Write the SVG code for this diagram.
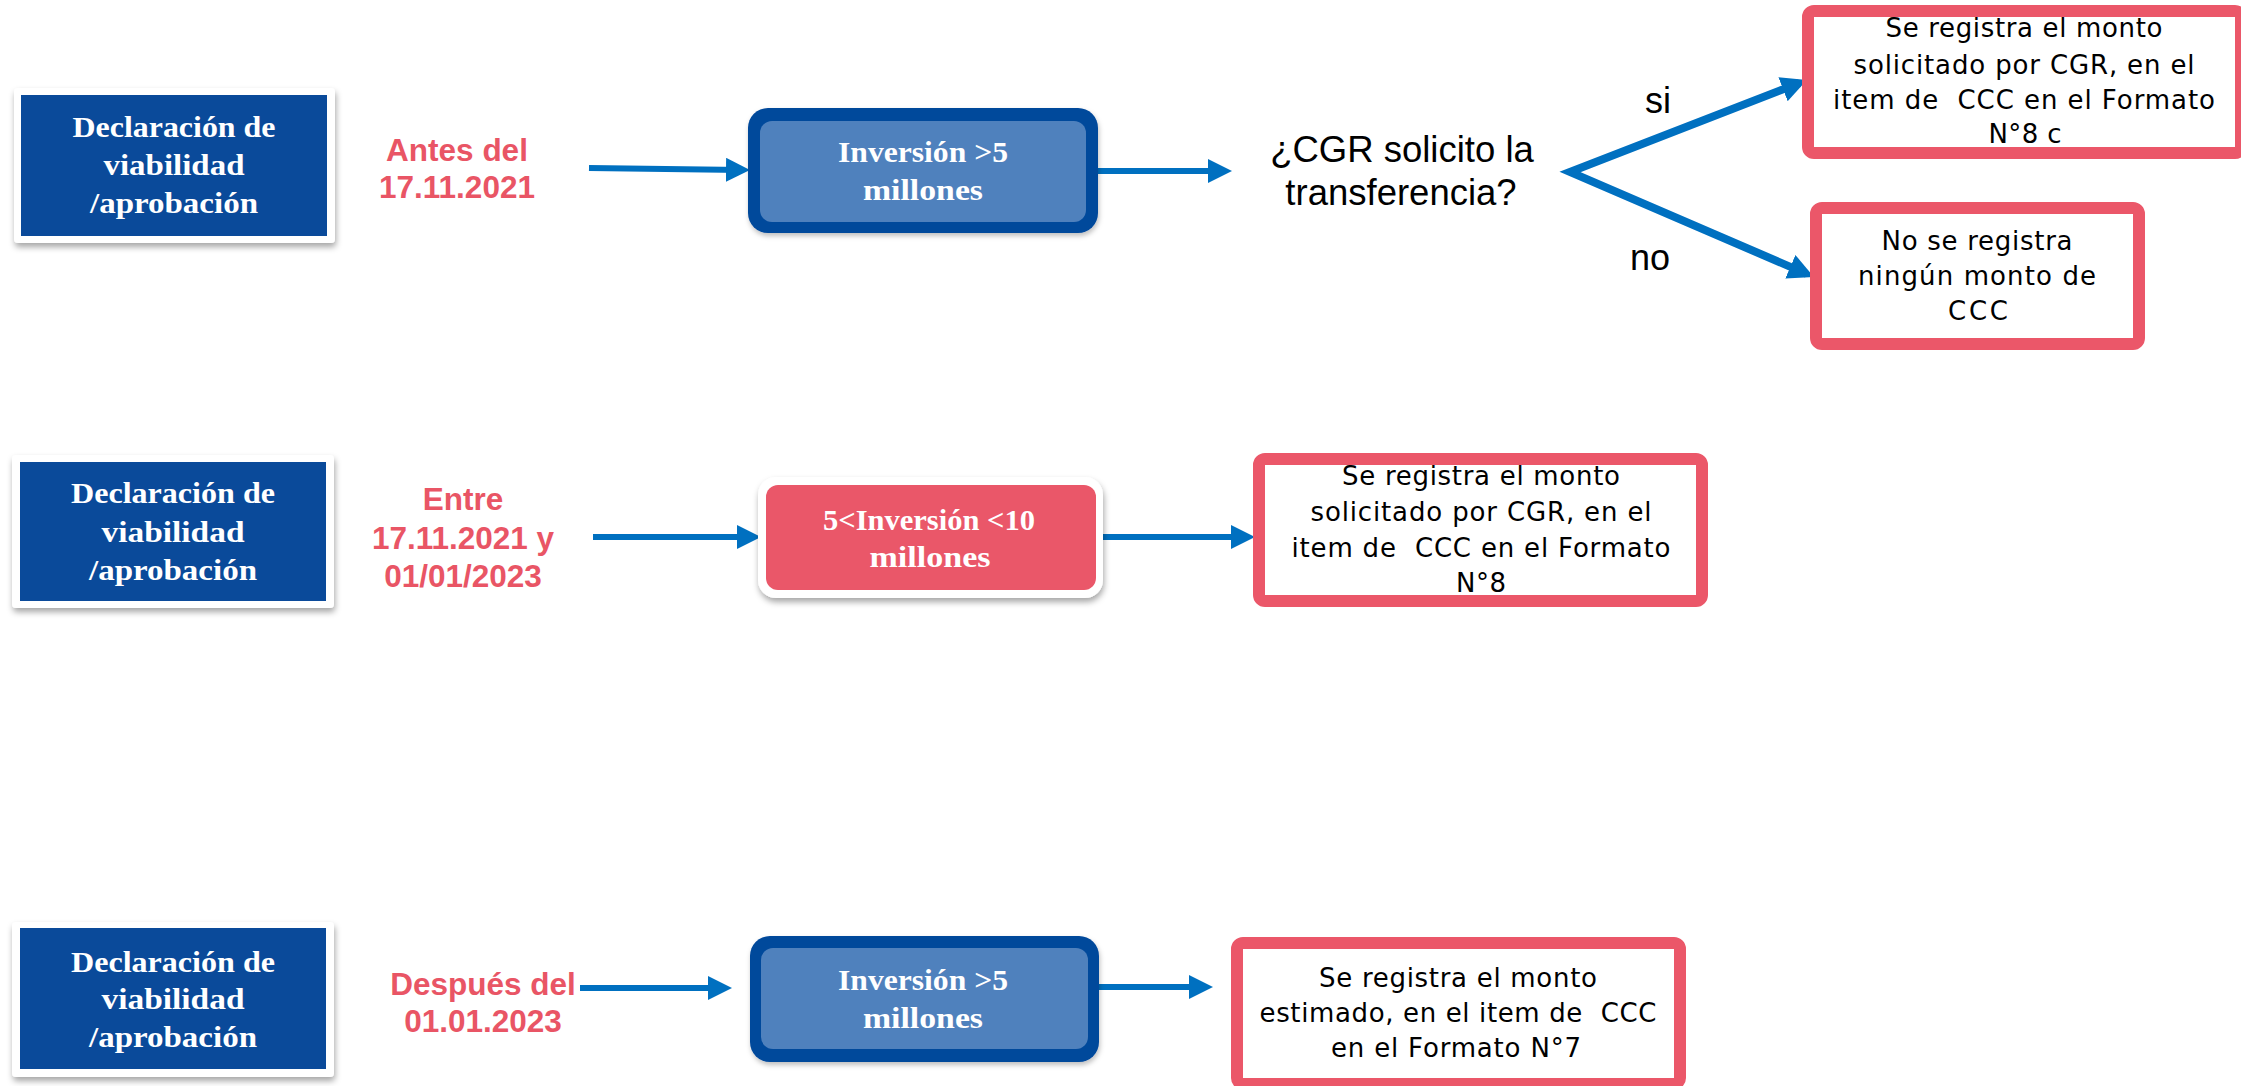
<svg xmlns="http://www.w3.org/2000/svg" width="2241" height="1086" viewBox="0 0 2241 1086">
<style>
.frame{fill:#ffffff;filter:url(#sh)}
.decl{fill:#0A4A9A}
.serif{font-family:"Liberation Serif","DejaVu Serif",serif;font-weight:bold;font-size:29px;fill:#ffffff;text-anchor:middle}
.red{font-family:"Liberation Sans",Arial,sans-serif;font-weight:bold;font-size:31.5px;fill:#E95565;text-anchor:middle}
.q{font-family:"Liberation Sans",Arial,sans-serif;font-size:36.5px;fill:#000000;text-anchor:middle}
.lbl{font-family:"Liberation Sans",Arial,sans-serif;font-size:36px;fill:#000000;text-anchor:middle}
.rbox{fill:#ffffff;stroke:#EB5769;stroke-width:12}
.body{font-family:"DejaVu Sans","Noto Sans",sans-serif;font-size:26px;fill:#000000;text-anchor:middle;white-space:pre}
.inv-o{fill:#05489B;filter:url(#sh2)}
.inv-i{fill:#4F81BD}
.pink{fill:#EA5769}
.conn{fill:none;stroke:#0070C0;stroke-width:6;marker-end:url(#ah)}
.br{fill:none;stroke:#0070C0;stroke-width:8;stroke-linejoin:miter;stroke-miterlimit:10;marker-start:url(#ah2);marker-end:url(#ah2)}
</style>
<defs>
<filter id="sh" x="-10%" y="-10%" width="125%" height="135%">
<feDropShadow dx="1" dy="4" stdDeviation="3" flood-color="#000000" flood-opacity="0.35"/>
</filter>
<filter id="sh2" x="-10%" y="-10%" width="125%" height="135%">
<feDropShadow dx="1" dy="3" stdDeviation="2.5" flood-color="#000000" flood-opacity="0.25"/>
</filter>
<marker id="ah" viewBox="0 0 10 10" refX="6.67" refY="5" markerWidth="4" markerHeight="4" orient="auto" markerUnits="strokeWidth">
<path d="M0,0 L10,5 L0,10 z" fill="#0070C0"/>
</marker>
<marker id="ah2" viewBox="0 0 10 10" refX="6.9" refY="5" markerWidth="3.2" markerHeight="3.2" orient="auto-start-reverse" markerUnits="strokeWidth">
<path d="M0,0 L10,5 L0,10 z" fill="#0070C0"/>
</marker>
</defs>
<rect width="2241" height="1086" fill="#ffffff"/>

<g id="connectors">
<path class="conn" d="M589,168 L742,170"/>
<path class="conn" d="M1092,171 L1224,171"/>
<path class="br" d="M1799.5,82.9 L1570,172 L1806.6,273.8"/>
<path class="conn" d="M593,537 L753,537"/>
<path class="conn" d="M1099,537 L1247,537"/>
<path class="conn" d="M580,988 L724,988"/>
<path class="conn" d="M1095,987 L1205,987"/>
</g>

<g id="decl1">
<rect class="frame" x="14" y="88" width="321" height="155" rx="4"/>
<rect class="decl" x="21" y="95" width="306" height="141"/>
<text class="serif" x="174" y="137" textLength="203" lengthAdjust="spacingAndGlyphs">Declaración de</text>
<text class="serif" x="174" y="175" textLength="141" lengthAdjust="spacingAndGlyphs">viabilidad</text>
<text class="serif" x="174" y="213" textLength="168" lengthAdjust="spacingAndGlyphs">/aprobación</text>
</g>
<g id="date1">
<text class="red" x="457" y="161">Antes del</text>
<text class="red" x="457" y="198">17.11.2021</text>
</g>
<g id="inv1">
<rect class="inv-o" x="748" y="108" width="350" height="125" rx="20"/>
<rect class="inv-i" x="760" y="121" width="326" height="101" rx="12"/>
<text class="serif" x="923" y="162" textLength="170" lengthAdjust="spacingAndGlyphs">Inversión &gt;5</text>
<text class="serif" x="923" y="200" textLength="120" lengthAdjust="spacingAndGlyphs">millones</text>
</g>
<g id="question">
<text class="q" x="1402" y="162">¿CGR solicito la</text>
<text class="q" x="1401" y="205">transferencia?</text>
</g>
<g id="label-si"><text class="lbl" x="1658" y="113">si</text></g>
<g id="label-no"><text class="lbl" x="1650" y="270">no</text></g>
<g id="box-si">
<rect class="rbox" x="1808" y="11" width="433" height="142" rx="6"/>
<text class="body" x="2024" y="37" textLength="277" lengthAdjust="spacing">Se registra el monto</text>
<text class="body" x="2024" y="74" textLength="341" lengthAdjust="spacing">solicitado por CGR, en el</text>
<text class="body" x="2024" y="109" textLength="382" lengthAdjust="spacing" xml:space="preserve">item de  CCC en el Formato</text>
<text class="body" x="2025" y="143" textLength="73" lengthAdjust="spacing">N°8 c</text>
</g>
<g id="box-no">
<rect class="rbox" x="1816" y="208" width="323" height="136" rx="6"/>
<text class="body" x="1977" y="250" textLength="191" lengthAdjust="spacing">No se registra</text>
<text class="body" x="1977" y="285" textLength="238" lengthAdjust="spacing">ningún monto de</text>
<text class="body" x="1978" y="320" textLength="60" lengthAdjust="spacing">CCC</text>
</g>

<g id="decl2">
<rect class="frame" x="12" y="455" width="322" height="153" rx="4"/>
<rect class="decl" x="20" y="462" width="306" height="139"/>
<text class="serif" x="173" y="503" textLength="204" lengthAdjust="spacingAndGlyphs">Declaración de</text>
<text class="serif" x="173" y="542" textLength="143" lengthAdjust="spacingAndGlyphs">viabilidad</text>
<text class="serif" x="173" y="580" textLength="168" lengthAdjust="spacingAndGlyphs">/aprobación</text>
</g>
<g id="date2">
<text class="red" x="463" y="510">Entre</text>
<text class="red" x="463" y="549">17.11.2021 y</text>
<text class="red" x="463" y="587">01/01/2023</text>
</g>
<g id="inv2">
<rect class="frame" x="758" y="477" width="345" height="121" rx="18"/>
<rect class="pink" x="766" y="485" width="330" height="105" rx="12"/>
<text class="serif" x="929" y="530" textLength="212" lengthAdjust="spacingAndGlyphs">5&lt;Inversión &lt;10</text>
<text class="serif" x="930" y="567" textLength="121" lengthAdjust="spacingAndGlyphs">millones</text>
</g>
<g id="box-row2">
<rect class="rbox" x="1259" y="459" width="443" height="142" rx="6"/>
<text class="body" x="1481" y="485" textLength="278" lengthAdjust="spacing">Se registra el monto</text>
<text class="body" x="1481" y="521" textLength="341" lengthAdjust="spacing">solicitado por CGR, en el</text>
<text class="body" x="1481" y="557" textLength="379" lengthAdjust="spacing" xml:space="preserve">item de  CCC en el Formato</text>
<text class="body" x="1481" y="592" textLength="50" lengthAdjust="spacing">N°8</text>
</g>

<g id="decl3">
<rect class="frame" x="12" y="922" width="322" height="155" rx="4"/>
<rect class="decl" x="20" y="928" width="306" height="141"/>
<text class="serif" x="173" y="972" textLength="204" lengthAdjust="spacingAndGlyphs">Declaración de</text>
<text class="serif" x="173" y="1009" textLength="143" lengthAdjust="spacingAndGlyphs">viabilidad</text>
<text class="serif" x="173" y="1047" textLength="168" lengthAdjust="spacingAndGlyphs">/aprobación</text>
</g>
<g id="date3">
<text class="red" x="483" y="995">Después del</text>
<text class="red" x="483" y="1032">01.01.2023</text>
</g>
<g id="inv3">
<rect class="inv-o" x="750" y="936" width="349" height="126" rx="20"/>
<rect class="inv-i" x="761" y="948" width="327" height="101" rx="12"/>
<text class="serif" x="923" y="990" textLength="170" lengthAdjust="spacingAndGlyphs">Inversión &gt;5</text>
<text class="serif" x="923" y="1028" textLength="120" lengthAdjust="spacingAndGlyphs">millones</text>
</g>
<g id="box-row3">
<rect class="rbox" x="1237" y="943" width="443" height="141" rx="6"/>
<text class="body" x="1458" y="987" textLength="278" lengthAdjust="spacing">Se registra el monto</text>
<text class="body" x="1458" y="1022" textLength="397" lengthAdjust="spacing" xml:space="preserve">estimado, en el item de  CCC</text>
<text class="body" x="1456" y="1057" textLength="250" lengthAdjust="spacing">en el Formato N°7</text>
</g>
</svg>
